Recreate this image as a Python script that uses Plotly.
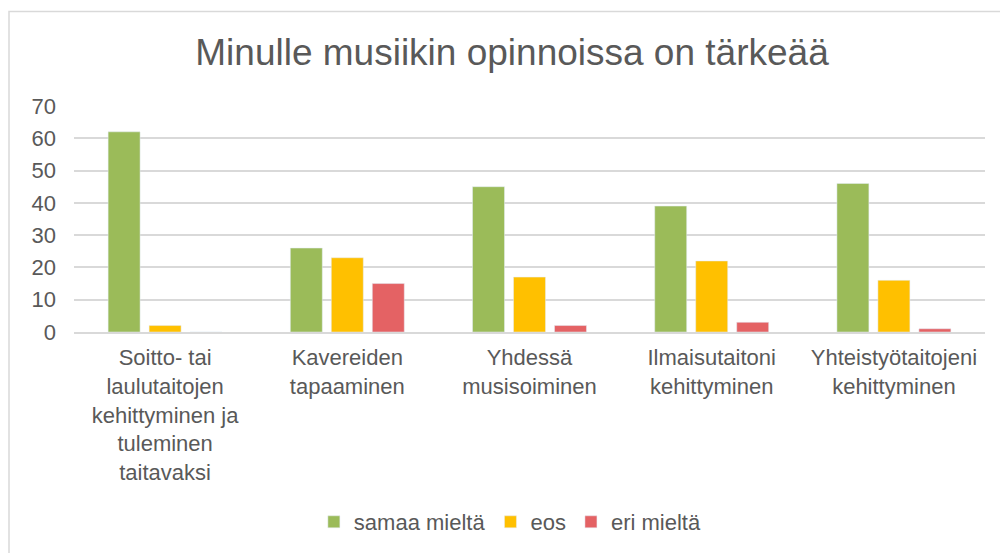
import plotly.graph_objects as go

categories = [
    "Soitto- tai<br>laulutaitojen<br>kehittyminen ja<br>tuleminen<br>taitavaksi",
    "Kavereiden<br>tapaaminen",
    "Yhdessä<br>musisoiminen",
    "Ilmaisutaitoni<br>kehittyminen",
    "Yhteistyötaitojeni<br>kehittyminen",
]
samaa_mielta = [62, 26, 45, 39, 46]
eos = [2, 23, 17, 22, 16]
eri_mielta = [0, 15, 2, 3, 1]
y_ticks = [0, 10, 20, 30, 40, 50, 60, 70]

FONT = "Liberation Sans, Arial, sans-serif"
GREY = "#595959"

fig = go.Figure()
fig.add_trace(go.Bar(name="samaa mieltä", x=categories, y=samaa_mielta, marker_color="#9BBB59"))
fig.add_trace(go.Bar(name="eos", x=categories, y=eos, marker_color="#FFC000"))
fig.add_trace(go.Bar(name="eri mieltä", x=categories, y=eri_mielta, marker_color="#E46264"))

L, R, T, B = 74, 15, 106, 220
W, H = 1000, 553
pw = W - L - R
ph = H - T - B

def px2paper_x(px):
    return (px - L) / pw

def px2paper_y(py):
    return (H - B - py) / ph

fig.update_layout(
    width=W, height=H,
    margin=dict(l=L, r=R, t=T, b=B),
    paper_bgcolor="white", plot_bgcolor="white",
    barmode="group", bargap=0.325, bargroupgap=0.22,
    font=dict(family=FONT, size=22, color=GREY),
    title=dict(text="Minulle musiikin opinnoissa on tärkeää",
               x=0.512, xanchor="center", y=1 - 52 / H, yanchor="middle",
               font=dict(family=FONT, size=37, color=GREY)),
    legend=dict(orientation="h", x=0.479, xanchor="center",
                y=px2paper_y(522), yanchor="middle",
                font=dict(family=FONT, size=22, color=GREY),
                itemwidth=30, tracegroupgap=0),
    xaxis=dict(showline=True, linecolor="#D9D9D9", linewidth=2, ticks="",
               tickfont=dict(family=FONT, size=22, color=GREY), showgrid=False,
               ticklabelstandoff=5),
    yaxis=dict(range=[0, 70], tickvals=y_ticks, showgrid=True, gridcolor="#D9D9D9",
               gridwidth=2, zeroline=False, showline=False, ticks="",
               tickfont=dict(family=FONT, size=22, color=GREY), ticklabelstandoff=17),
    shapes=[dict(type="rect", xref="paper", yref="paper",
                 x0=px2paper_x(9), x1=px2paper_x(1010),
                 y0=px2paper_y(560), y1=px2paper_y(11),
                 line=dict(color="#D9D9D9", width=1.5), fillcolor="rgba(0,0,0,0)",
                 layer="below")],
)

fig.write_html("out.html", config={"displayModeBar": False},
               post_script="document.body.style.margin='0';document.body.style.overflow='hidden';")
